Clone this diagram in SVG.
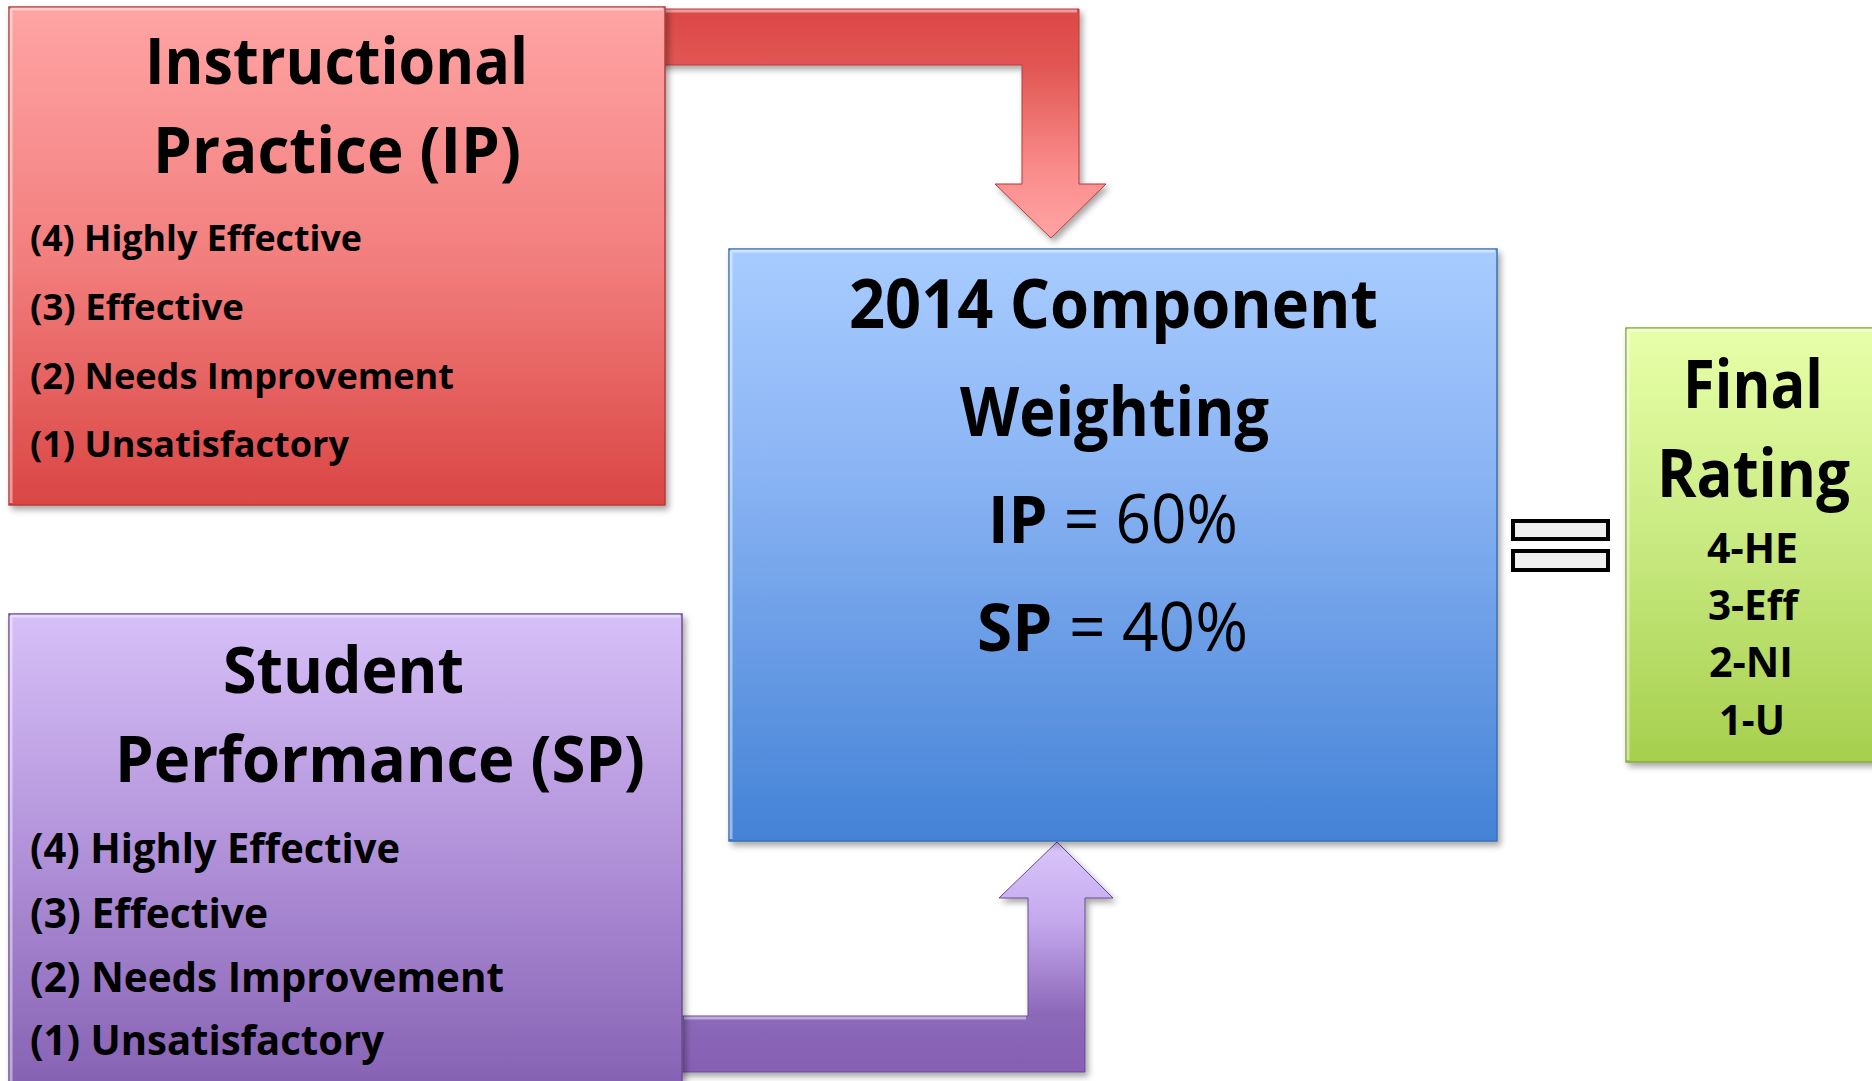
<svg xmlns="http://www.w3.org/2000/svg" width="1872" height="1081" viewBox="0 0 1872 1081">
<style>
.t{font-family:'Open Sans','Liberation Sans','DejaVu Sans',sans-serif;font-weight:700;fill:#000}
.n{font-weight:400}
.hl{fill:none;stroke:#ffffff;stroke-opacity:0.45;stroke-width:3}
</style>
<defs>
<filter id="sh" x="-10%" y="-10%" width="125%" height="125%">
<feDropShadow dx="3" dy="4" stdDeviation="3" flood-color="#000" flood-opacity="0.35"/>
</filter>
<linearGradient id="gRed" x1="0" y1="0" x2="0" y2="1">
<stop offset="0" stop-color="#ffa4a4"/><stop offset="0.5" stop-color="#f27f7e"/><stop offset="1" stop-color="#da4644"/>
</linearGradient>
<linearGradient id="gPur" x1="0" y1="0" x2="0" y2="1">
<stop offset="0" stop-color="#d6c0f8"/><stop offset="0.45" stop-color="#b596dc"/><stop offset="1" stop-color="#8560b2"/>
</linearGradient>
<linearGradient id="gBlu" x1="0" y1="0" x2="0" y2="1">
<stop offset="0" stop-color="#a7ccff"/><stop offset="0.35" stop-color="#8db6f5"/><stop offset="1" stop-color="#4482d6"/>
</linearGradient>
<linearGradient id="gGrn" x1="0" y1="0" x2="0" y2="1">
<stop offset="0" stop-color="#e8ffa9"/><stop offset="0.5" stop-color="#c8e980"/><stop offset="1" stop-color="#a6cf4d"/>
</linearGradient>
<linearGradient id="gRedA" gradientUnits="userSpaceOnUse" x1="0" y1="9" x2="0" y2="238">
<stop offset="0" stop-color="#dc4846"/><stop offset="0.25" stop-color="#e15654"/><stop offset="0.7" stop-color="#f98c8b"/><stop offset="1" stop-color="#ffa4a4"/>
</linearGradient>
<linearGradient id="gPurA" gradientUnits="userSpaceOnUse" x1="0" y1="842" x2="0" y2="1072">
<stop offset="0" stop-color="#dac6fc"/><stop offset="0.35" stop-color="#c3a8ec"/><stop offset="0.75" stop-color="#8c68b9"/><stop offset="1" stop-color="#8660b3"/>
</linearGradient>
</defs>

<g id="connectors">
<path id="arrow-ip" filter="url(#sh)" fill="url(#gRedA)" stroke="#b83a38" stroke-width="1" d="M650,9 L1079,9 L1079,184 L1106,184 L1051,238 L995,184 L1022,184 L1022,65 L650,65 Z"/>
<path class="hl" d="M665,11 L1077,11"/>
<path id="arrow-sp" filter="url(#sh)" fill="url(#gPurA)" stroke="#6a4a94" stroke-width="1" d="M1057,842 L1113,898 L1085,898 L1085,1072 L660,1072 L660,1016 L1028,1016 L1028,898 L999,898 Z"/>
<path class="hl" d="M684,1018 L1026,1018"/>
</g>

<g id="node-ip">
<rect x="9" y="7" width="656" height="498" fill="url(#gRed)" stroke="#b53b39" stroke-width="1.5" filter="url(#sh)"/>
<path class="hl" d="M11,9 L663,9 M11,9 L11,503"/>
<text class="t" x="145" y="84" font-size="64" textLength="383" lengthAdjust="spacingAndGlyphs">Instructional</text>
<text class="t" x="153" y="173" font-size="64" textLength="368" lengthAdjust="spacingAndGlyphs">Practice (IP)</text>
<text class="t" x="30" y="251" font-size="36" textLength="332" lengthAdjust="spacingAndGlyphs">(4) Highly Effective</text>
<text class="t" x="30" y="320" font-size="36" textLength="214" lengthAdjust="spacingAndGlyphs">(3) Effective</text>
<text class="t" x="30" y="389" font-size="36" textLength="424" lengthAdjust="spacingAndGlyphs">(2) Needs Improvement</text>
<text class="t" x="30" y="457" font-size="36" textLength="319" lengthAdjust="spacingAndGlyphs">(1) Unsatisfactory</text>
</g>

<g id="node-sp">
<rect x="9" y="614" width="673" height="480" fill="url(#gPur)" stroke="#6c4c97" stroke-width="1.5" filter="url(#sh)"/>
<path class="hl" d="M11,616 L680,616 M11,616 L11,1081"/>
<text class="t" x="223" y="693" font-size="65" textLength="241" lengthAdjust="spacingAndGlyphs">Student</text>
<text class="t" x="115" y="782" font-size="65" textLength="530" lengthAdjust="spacingAndGlyphs">Performance (SP)</text>
<text class="t" x="30" y="863" font-size="41" textLength="370" lengthAdjust="spacingAndGlyphs">(4) Highly Effective</text>
<text class="t" x="30" y="928" font-size="41" textLength="238" lengthAdjust="spacingAndGlyphs">(3) Effective</text>
<text class="t" x="30" y="992" font-size="41" textLength="474" lengthAdjust="spacingAndGlyphs">(2) Needs Improvement</text>
<text class="t" x="30" y="1055" font-size="41" textLength="354" lengthAdjust="spacingAndGlyphs">(1) Unsatisfactory</text>
</g>

<g id="node-weighting">
<rect x="729" y="249" width="768" height="592" fill="url(#gBlu)" stroke="#3a6fb5" stroke-width="1.5" filter="url(#sh)"/>
<path class="hl" d="M731,251 L1495,251 M731,251 L731,839"/>
<text class="t" x="849" y="328" font-size="68" textLength="529" lengthAdjust="spacingAndGlyphs">2014 Component</text>
<text class="t" x="960" y="436" font-size="68" textLength="309" lengthAdjust="spacingAndGlyphs">Weighting</text>
<text class="t" x="988" y="543" font-size="67" textLength="250" lengthAdjust="spacingAndGlyphs">IP<tspan class="n"> = 60%</tspan></text>
<text class="t" x="977" y="651" font-size="67" textLength="271" lengthAdjust="spacingAndGlyphs">SP<tspan class="n"> = 40%</tspan></text>
</g>

<g id="equals">
<rect x="1513" y="521" width="95" height="18" fill="#f0f0f0" stroke="#000" stroke-width="4"/>
<rect x="1513" y="551" width="95" height="19" fill="#f0f0f0" stroke="#000" stroke-width="4"/>
</g>

<g id="node-final">
<rect x="1626" y="328" width="270" height="434" fill="url(#gGrn)" stroke="#86a83a" stroke-width="1.5" filter="url(#sh)"/>
<path class="hl" d="M1628,330 L1872,330 M1628,330 L1628,760"/>
<text class="t" x="1683" y="408" font-size="66" textLength="140" lengthAdjust="spacingAndGlyphs">Final</text>
<text class="t" x="1657" y="497" font-size="66" textLength="193" lengthAdjust="spacingAndGlyphs">Rating</text>
<text class="t" x="1707" y="563" font-size="41" textLength="91" lengthAdjust="spacingAndGlyphs">4-HE</text>
<text class="t" x="1708" y="620" font-size="41" textLength="90" lengthAdjust="spacingAndGlyphs">3-Eff</text>
<text class="t" x="1709" y="677" font-size="41" textLength="84" lengthAdjust="spacingAndGlyphs">2-NI</text>
<text class="t" x="1719" y="735" font-size="41" textLength="66" lengthAdjust="spacingAndGlyphs">1-U</text>
</g>
</svg>
